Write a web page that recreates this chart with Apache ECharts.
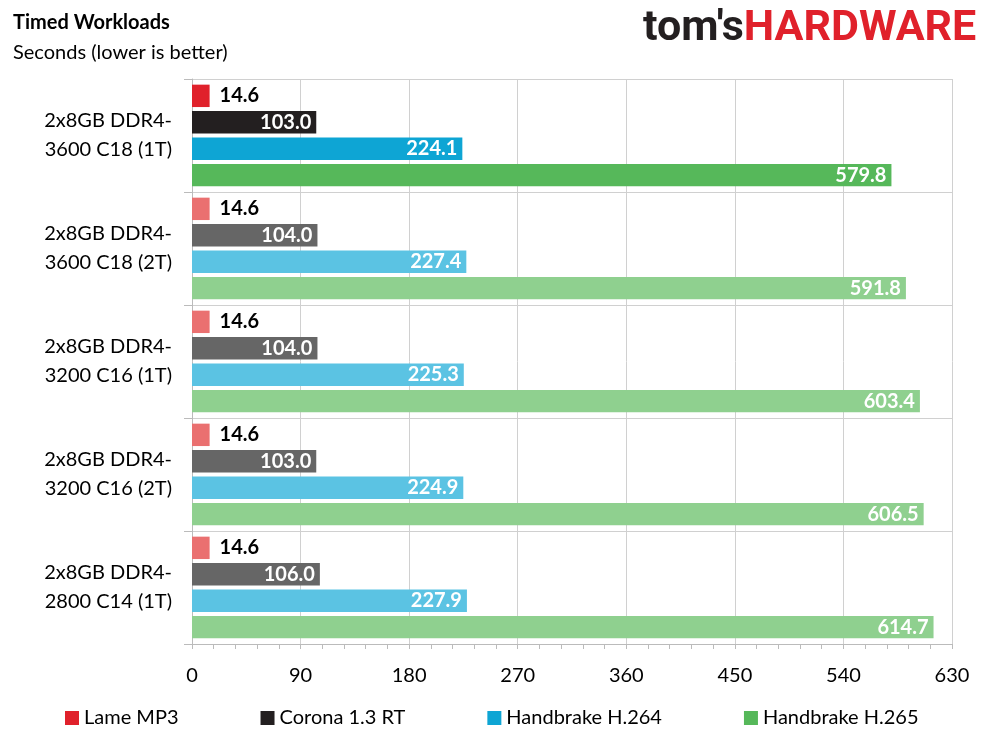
<!DOCTYPE html>
<html><head><meta charset="utf-8">
<script src="https://cdn.jsdelivr.net/npm/echarts@6/dist/echarts.min.js"></script>
<style>html,body{margin:0;background:#fff}#c{width:989px;height:741px}</style>
</head><body><div id="c"></div>
<script>
const categories = ['2x8GB DDR4-\n3600 C18 (1T)', '2x8GB DDR4-\n3600 C18 (2T)', '2x8GB DDR4-\n3200 C16 (1T)', '2x8GB DDR4-\n3200 C16 (2T)', '2x8GB DDR4-\n2800 C14 (1T)'];
const lameMp3 = [14.6, 14.6, 14.6, 14.6, 14.6];
const corona = [103.0, 104.0, 104.0, 103.0, 106.0];
const h264 = [224.1, 227.4, 225.3, 224.9, 227.9];
const h265 = [579.8, 591.8, 603.4, 606.5, 614.7];
const xTicks = [0, 90, 180, 270, 360, 450, 540, 630];

const font = 'Lato, "Open Sans", sans-serif';
const chart = echarts.init(document.getElementById('c'));

function mk(name, vals, strong, light, labelInside) {
  return {
    name, type: 'bar', barCategoryGap: '10%', barGap: '18%',
    itemStyle: { color: light },
    data: vals.map((v, i) => i === 0 ? { value: v, itemStyle: { color: strong } } : v),
    label: {
      show: true, position: labelInside ? 'insideRight' : 'right',
      formatter: p => p.value.toFixed(1),
      color: labelInside ? '#fff' : '#000', fontWeight: 'bold', fontSize: 20, fontFamily: font,
      distance: labelInside ? 5 : 10
    }
  };
}

chart.setOption({
  animation: false,
  grid: { left: 192, right: 37, top: 79, bottom: 97, containLabel: false },
  title: [
    { text: 'Timed Workloads', left: 8, top: 8, textStyle: { fontFamily: font, fontSize: 20, fontWeight: 'bold', color: '#000' } },
    { text: 'Seconds (lower is better)', left: 8, top: 38, textStyle: { fontFamily: font, fontSize: 20, fontWeight: 'normal', color: '#000' } }
  ],
  graphic: [{
    type: 'text', left: 643, top: 8,
    style: {
      text: "{a|tom's}{b|HARDWARE}",
      rich: {
        a: { fontFamily: 'Roboto, sans-serif', fontWeight: 'bold', fontSize: 43, fill: '#231f20' },
        b: { fontFamily: 'Roboto, sans-serif', fontWeight: 'bold', fontSize: 43, fill: '#e0212b' }
      }
    }
  }],
  legend: {
    bottom: 8, left: 60, itemGap: 82, icon: 'rect', itemWidth: 14, itemHeight: 14,
    textStyle: { fontFamily: font, fontSize: 20, color: '#000' },
    data: [
      { name: 'Lame MP3', itemStyle: { color: '#e0212b' } },
      { name: 'Corona 1.3 RT', itemStyle: { color: '#231f20' } },
      { name: 'Handbrake H.264', itemStyle: { color: '#0ea5d4' } },
      { name: 'Handbrake H.265', itemStyle: { color: '#56b85a' } }
    ]
  },
  xAxis: {
    type: 'value', min: 0, max: 630, interval: 90,
    axisLine: { show: true, lineStyle: { color: '#bbb' } },
    axisTick: { show: true, length: 5, lineStyle: { color: '#bbb' } },
    minorTick: { show: true, splitNumber: 5, length: 5, lineStyle: { color: '#bbb' } },
    splitLine: { show: true, lineStyle: { color: '#d0d0d0' } },
    axisLabel: { fontFamily: font, fontSize: 20, color: '#000', margin: 22, formatter: v => xTicks.includes(v) ? String(v) : '' }
  },
  yAxis: {
    type: 'category', data: categories, inverse: true,
    axisLine: { show: true, lineStyle: { color: '#bbb' } },
    axisTick: { show: true, length: 8, lineStyle: { color: '#bbb' } },
    splitLine: { show: true, lineStyle: { color: '#d0d0d0' } },
    axisLabel: { fontFamily: font, fontSize: 20, color: '#000', margin: 20, lineHeight: 29, align: 'right' }
  },
  series: [
    mk('Lame MP3', lameMp3, '#e0212b', '#ea7070', false),
    mk('Corona 1.3 RT', corona, '#231f20', '#666666', true),
    mk('Handbrake H.264', h264, '#0ea5d4', '#5bc3e3', true),
    mk('Handbrake H.265', h265, '#56b85a', '#8fd08f', true)
  ]
});
</script></body></html>
